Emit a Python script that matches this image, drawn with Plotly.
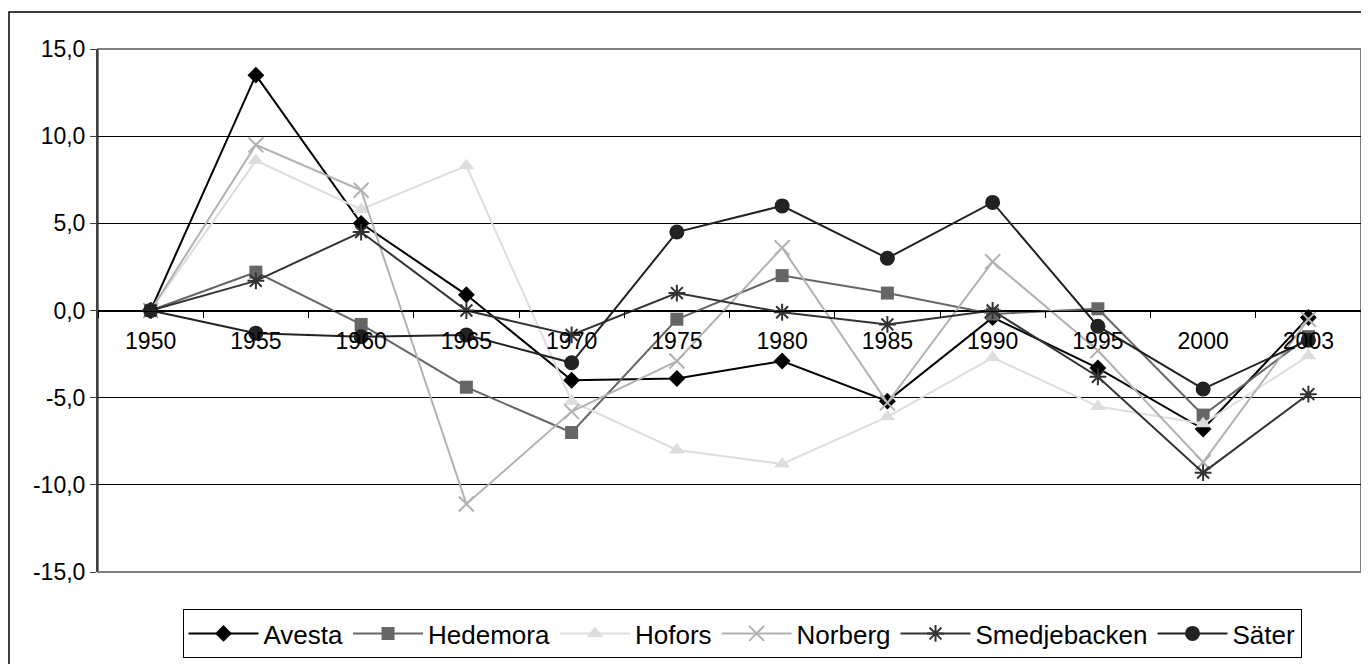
import plotly.graph_objects as go

years = ["1950", "1955", "1960", "1965", "1970", "1975", "1980", "1985", "1990", "1995", "2000", "2003"]

avesta = [0.0, 13.5, 5.0, 0.9, -4.0, -3.9, -2.9, -5.2, -0.4, -3.3, -6.8, -0.4]
hedemora = [0.0, 2.2, -0.8, -4.4, -7.0, -0.5, 2.0, 1.0, -0.2, 0.1, -6.0, -1.5]
hofors = [0.0, 8.6, 5.8, 8.3, -5.2, -8.0, -8.8, -6.1, -2.7, -5.5, -6.5, -2.6]
norberg = [0.0, 9.5, 6.9, -11.1, -5.8, -2.9, 3.6, -5.3, 2.8, -2.3, -8.7, -0.5]
smedjebacken = [0.0, 1.7, 4.5, 0.0, -1.4, 1.0, -0.1, -0.8, 0.0, -3.8, -9.3, -4.8]
sater = [0.0, -1.3, -1.5, -1.4, -3.0, 4.5, 6.0, 3.0, 6.2, -0.9, -4.5, -1.7]

y_ticks = [-15, -10, -5, 0, 5, 10, 15]
y_tick_text = ["-15,0", "-10,0", "-5,0", "0,0", "5,0", "10,0", "15,0"]

series = [
    ("Avesta", avesta, "#000000", "diamond", 13),
    ("Hedemora", hedemora, "#666666", "square", 13),
    ("Hofors", hofors, "#dddddd", "triangle-up", 14),
    ("Norberg", norberg, "#b2b2b2", "x-thin-open", 15),
    ("Smedjebacken", smedjebacken, "#333333", "asterisk-open", 14),
    ("Säter", sater, "#222222", "circle", 15),
]

FONT = "Arial, Liberation Sans, sans-serif"

fig = go.Figure()
for name, vals, color, sym, size in series:
    open_sym = sym.endswith("-open")
    fig.add_trace(go.Scatter(
        x=years, y=vals, name=name, mode="lines+markers",
        line=dict(color=color, width=2),
        marker=dict(symbol=sym, size=size, color=color,
                    line=dict(color=color, width=2 if open_sym else 0)),
    ))

# page body has an 8px margin, so figure coords = screen coords - 8
W, H = 1361, 656
L, R, T, B = 90, 8, 41, 92
pw = W - L - R
ph = H - T - B

fig.update_layout(
    width=W, height=H,
    margin=dict(l=L, r=R, t=T, b=B, pad=0, autoexpand=False),
    paper_bgcolor="white", plot_bgcolor="white",
    font=dict(family=FONT, size=23, color="black"),
    showlegend=True,
    legend=dict(
        orientation="h", x=(734 - L) / pw, xanchor="center",
        y=(H - B - 601) / ph, yanchor="top",
        bordercolor="black", borderwidth=1, bgcolor="white",
        font=dict(family=FONT, size=26, color="black"),
        itemwidth=70, tracegroupgap=0,
    ),
    xaxis=dict(
        type="category", range=[-0.5, len(years) - 0.5],
        anchor="free", position=0.5, automargin=False,
        showline=True, linecolor="black", linewidth=1,
        ticks="outside", ticklen=6, tickcolor="black", tickson="boundaries",
        showgrid=False, zeroline=False,
        tickfont=dict(family=FONT, size=23, color="black"),
        ticklabelstandoff=10,
    ),
    yaxis=dict(
        range=[-15, 15], tickvals=y_ticks, ticktext=y_tick_text, automargin=False,
        showgrid=True, gridcolor="black", gridwidth=1,
        zeroline=False,
        showline=True, linecolor="#404040", linewidth=2,
        ticks="outside", ticklen=6, tickcolor="#404040",
        tickfont=dict(family=FONT, size=23, color="black"),
    ),
    shapes=[
        dict(type="rect", xref="paper", yref="paper", x0=0, x1=1, y0=0, y1=1,
             line=dict(color="#808080", width=2), layer="below"),
        dict(type="rect", xref="paper", yref="paper",
             x0=(1 - L) / pw, x1=(W + 5 - L) / pw,
             y0=(H - B - (H + 5)) / ph, y1=(H - B - 4) / ph,
             line=dict(color="black", width=1.5), layer="below"),
    ],
)

fig.write_html("out.html")
